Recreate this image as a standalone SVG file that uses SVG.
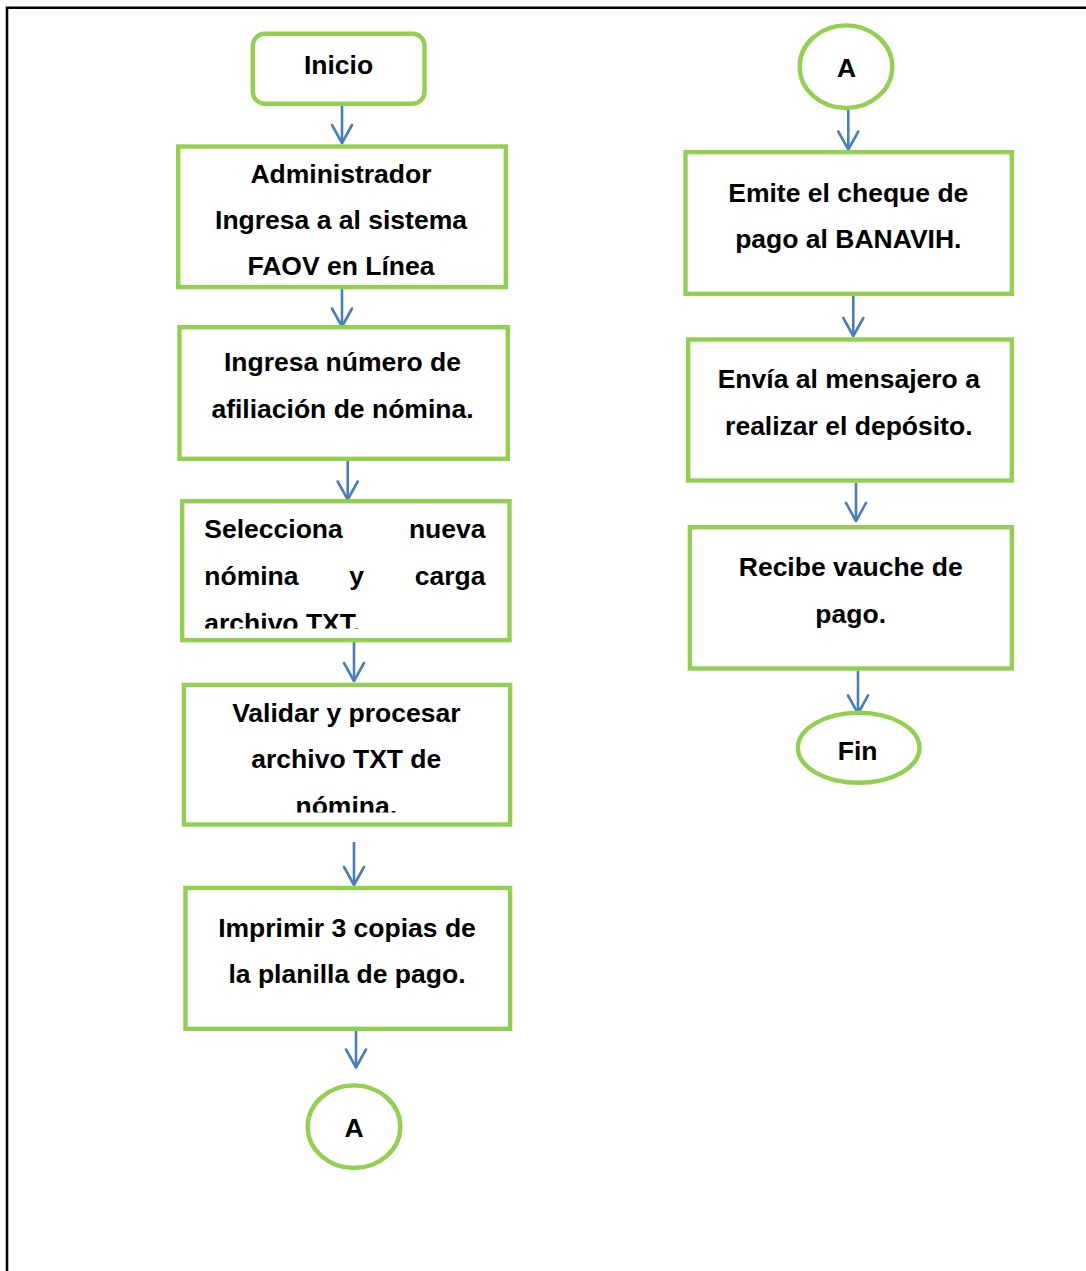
<svg xmlns="http://www.w3.org/2000/svg" width="1086" height="1271" viewBox="0 0 1086 1271">
  <style>
    .box { fill: #ffffff; stroke: #92D050; stroke-width: 4.4; }
    .lbl { font-family: "Liberation Sans", Arial, sans-serif; font-weight: bold; font-size: 26.5px; fill: #000000; }
    .mid { text-anchor: middle; }
    .end { text-anchor: end; }
    .conn { fill: none; stroke: #4A7EBB; stroke-width: 2.6; marker-end: url(#vhead); }
    .frame { stroke: #000000; stroke-width: 2.6; fill: none; }
  </style>
  <defs>
    <marker id="vhead" markerUnits="userSpaceOnUse" viewBox="-22 -14 26 28" refX="0" refY="0" markerWidth="26" markerHeight="28" orient="auto">
      <path d="M-18,-10 L0,0 L-18,10" fill="none" stroke="#4A7EBB" stroke-width="2.6" stroke-linecap="round" stroke-linejoin="round"/>
    </marker>
    <clipPath id="clipSel"><rect x="180" y="499" width="332" height="129.5"/></clipPath>
    <clipPath id="clipVal"><rect x="180" y="682" width="332" height="130.5"/></clipPath>
  </defs>

  <rect width="1086" height="1271" fill="#ffffff"/>
  <!-- page frame: top and left rules -->
  <path class="frame" d="M7,1271 L7,7.7 L1086,7.7"/>

  <!-- connectors -->
  <g id="connectors">
    <path class="conn" d="M342,104 L342,143"/>
    <path class="conn" d="M342,289 L342,326.5"/>
    <path class="conn" d="M347.7,461 L347.7,499.5"/>
    <path class="conn" d="M354,642 L354,681"/>
    <path class="conn" d="M354,842 L354,885"/>
    <path class="conn" d="M356,1028 L356,1067.5"/>
    <path class="conn" d="M848.3,110 L848.3,149.5"/>
    <path class="conn" d="M853.3,296 L853.3,336"/>
    <path class="conn" d="M856,482.7 L856,521"/>
    <path class="conn" d="M858,670.7 L858,713.5"/>
  </g>

  <!-- left column -->
  <g id="inicio">
    <rect class="box" x="252.8" y="33.8" width="171.7" height="70" rx="12"/>
    <text class="lbl mid" x="338.5" y="74">Inicio</text>
  </g>

  <g id="admin">
    <rect class="box" x="178.2" y="146.5" width="327.6" height="140.6"/>
    <text class="lbl mid" x="341" y="183">Administrador</text>
    <text class="lbl mid" x="341" y="229">Ingresa a al sistema</text>
    <text class="lbl mid" x="341" y="275">FAOV en Línea</text>
  </g>

  <g id="numero">
    <rect class="box" x="179.5" y="327.2" width="328.3" height="131.6"/>
    <text class="lbl mid" x="342.5" y="370.7">Ingresa número de</text>
    <text class="lbl mid" x="342.5" y="418.3">afiliación de nómina.</text>
  </g>

  <g id="selecciona">
    <rect class="box" x="182.2" y="501.2" width="327.3" height="139"/>
    <g clip-path="url(#clipSel)">
      <text class="lbl" x="204.3" y="538.3">Selecciona</text>
      <text class="lbl end" x="485.5" y="538.3">nueva</text>
      <text class="lbl" x="204.3" y="585">nómina</text>
      <text class="lbl mid" x="356.5" y="585">y</text>
      <text class="lbl end" x="485.5" y="585">carga</text>
      <text class="lbl" x="204.3" y="631.5">archivo TXT.</text>
    </g>
  </g>

  <g id="validar">
    <rect class="box" x="183.9" y="684.9" width="326.2" height="139.6"/>
    <g clip-path="url(#clipVal)">
      <text class="lbl mid" x="346.3" y="721.7">Validar y procesar</text>
      <text class="lbl mid" x="346.3" y="768.3">archivo TXT de</text>
      <text class="lbl mid" x="346.3" y="815">nómina.</text>
    </g>
  </g>

  <g id="imprimir">
    <rect class="box" x="185.5" y="887.9" width="324.6" height="140.9"/>
    <text class="lbl mid" x="347" y="936.7">Imprimir 3 copias de</text>
    <text class="lbl mid" x="347" y="983.3">la planilla de pago.</text>
  </g>

  <g id="conector-a-salida">
    <ellipse class="box" cx="354" cy="1126.7" rx="46.3" ry="41.3"/>
    <text class="lbl mid" x="354" y="1136.7">A</text>
  </g>

  <!-- right column -->
  <g id="conector-a-entrada">
    <ellipse class="box" cx="846" cy="66.7" rx="46.3" ry="41.3"/>
    <text class="lbl mid" x="846.5" y="76.7">A</text>
  </g>

  <g id="emite">
    <rect class="box" x="685.5" y="152.2" width="326.3" height="141.6"/>
    <text class="lbl mid" x="848.3" y="201.7">Emite el cheque de</text>
    <text class="lbl mid" x="848.3" y="248.3">pago al BANAVIH.</text>
  </g>

  <g id="envia">
    <rect class="box" x="688.2" y="339.5" width="323.6" height="141"/>
    <text class="lbl mid" x="848.8" y="388.3">Envía al mensajero a</text>
    <text class="lbl mid" x="848.8" y="435">realizar el depósito.</text>
  </g>

  <g id="recibe">
    <rect class="box" x="689.9" y="527.2" width="321.9" height="141.3"/>
    <text class="lbl mid" x="850.7" y="576">Recibe vauche de</text>
    <text class="lbl mid" x="850.7" y="623.3">pago.</text>
  </g>

  <g id="fin">
    <ellipse class="box" cx="858.7" cy="747.8" rx="60.8" ry="35"/>
    <text class="lbl mid" x="857.7" y="760">Fin</text>
  </g>
</svg>
